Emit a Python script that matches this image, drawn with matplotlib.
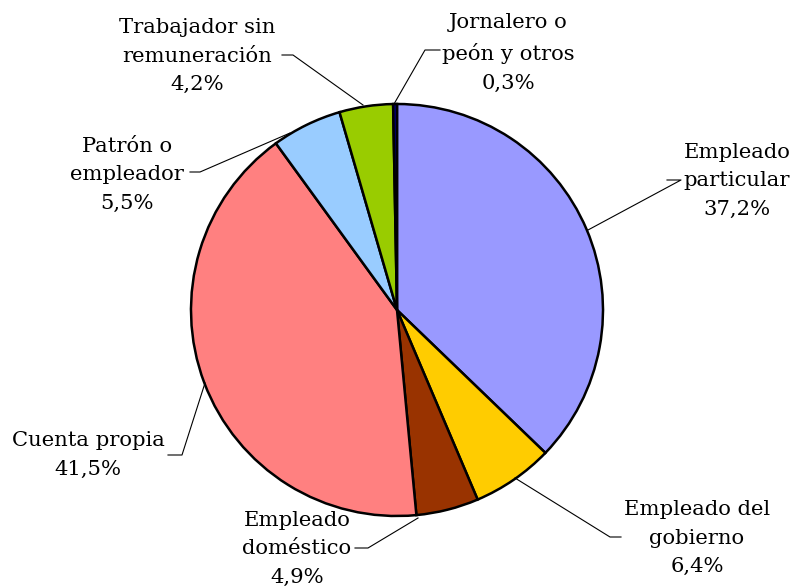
import matplotlib
matplotlib.use("Agg")
import matplotlib.pyplot as plt

categories = ["Empleado\nparticular", "Empleado del\ngobierno", "Empleado\ndoméstico",
              "Cuenta propia", "Patrón o\nempleador", "Trabajador sin\nremuneración",
              "Jornalero o\npeón y otros"]
values = [37.2, 6.4, 4.9, 41.5, 5.5, 4.2, 0.3]
colors = ["#9999FF", "#FFCC00", "#993300", "#FF8080", "#99CCFF", "#99CC00", "#000080"]

W, H = 794, 587
fig = plt.figure(figsize=(W / 100, H / 100), dpi=100)
ax = fig.add_axes([0, 0, 1, 1])

cx, cy, r = 397, H - 310, 206
ax.pie(values, colors=colors, startangle=90, counterclock=False, center=(cx, cy),
       radius=r, wedgeprops=dict(edgecolor="black", linewidth=1.8), frame=True)
ax.set_xlim(0, W)
ax.set_ylim(0, H)
ax.axis("off")

# label text centre (px), leader: text end point, elbow, pie point
labels_layout = [
    ((737, 181), [(667, 180), (681, 180)], (588, 230)),
    ((697, 538), [(621, 537), (610, 537)], (515, 478)),
    ((297, 549), [(355, 548), (368, 548)], (418, 518)),
    ((88, 455), [(168, 455), (182, 455)], (205, 383)),
    ((127, 175), [(190, 172), (200, 172)], (290, 133)),
    ((197, 56), [(282, 55), (293, 55)], (363, 105)),
    ((508, 53), [(440, 50), (425, 50)], (394, 104)),
]

for cat, val, (tpos, elbow, pt) in zip(categories, values, labels_layout):
    txt = f"{cat}\n{val:.1f}%".replace(".", ",")
    ax.text(tpos[0], H - tpos[1], txt, ha="center", va="center",
            fontsize=15.2, family="DejaVu Serif", linespacing=1.65, color="black")
    xs = [elbow[0][0], elbow[1][0], pt[0]]
    ys = [H - elbow[0][1], H - elbow[1][1], H - pt[1]]
    ax.plot(xs, ys, color="black", linewidth=0.8)

fig.savefig("out.png", dpi=100)
